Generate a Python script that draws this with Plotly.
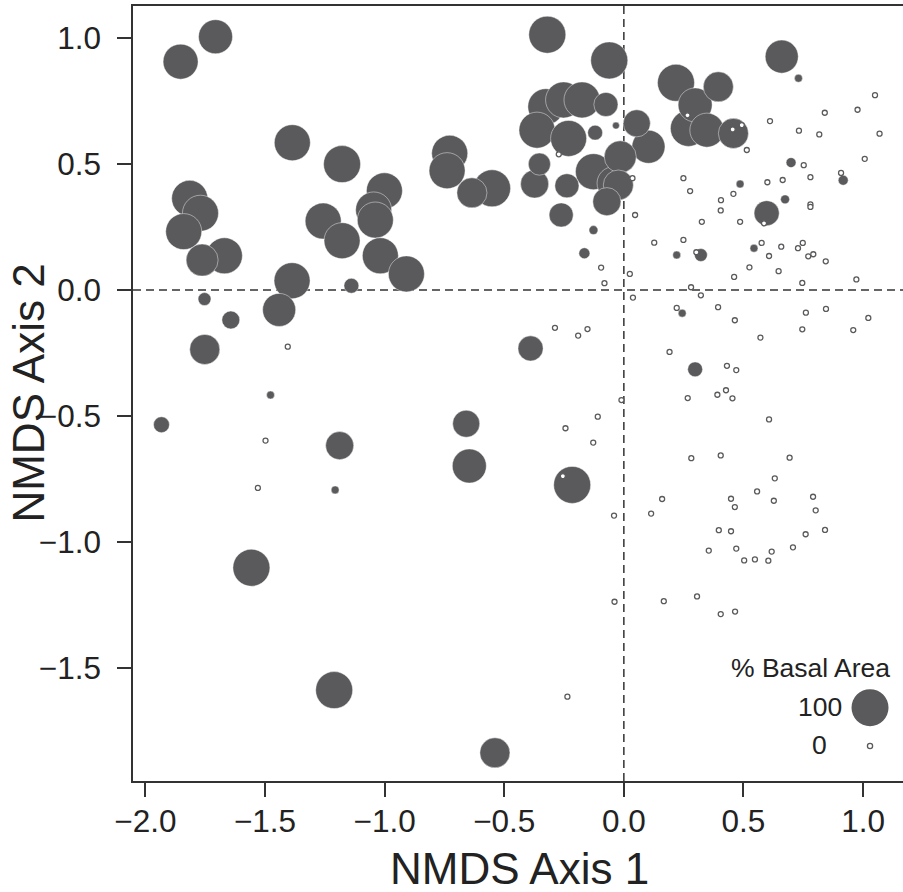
import numpy as np
import plotly.graph_objects as go

# Sites with non-zero basal area (NMDS axis 1, axis 2, % basal area)
filled_x = [-1.853, -1.707, -1.386, -1.815, -1.770, -1.840, -1.763, -1.670, -1.178, -1.001,
            -1.046, -1.039, -1.257, -1.178, -1.018, -0.909, -1.387, -1.441, -1.139, -1.753,
            -1.643, -1.752, -1.477, -1.933, -1.188, -1.207, -1.557, -1.211, -0.539, -0.659,
            -0.646, -0.390, -0.216, -0.320, -0.061, -0.728, -0.739, -0.635, -0.551, -0.353,
            -0.373, -0.238, -0.262, -0.127, -0.165, -0.120, -0.326, -0.252, -0.175, -0.075,
            -0.363, -0.231, -0.033, 0.054, 0.103, -0.015, -0.043, -0.127, -0.023, -0.071,
            0.218, 0.395, 0.298, 0.270, 0.347, 0.458, 0.660, 0.730, 0.699, 0.486,
            0.674, 0.597, 0.917, 0.544, 0.322, 0.221, 0.244, 0.298]
filled_y = [0.907, 1.006, 0.585, 0.364, 0.305, 0.232, 0.119, 0.136, 0.500, 0.394,
            0.318, 0.278, 0.274, 0.196, 0.136, 0.064, 0.037, -0.079, 0.017, -0.036,
            -0.119, -0.236, -0.417, -0.535, -0.618, -0.794, -1.103, -1.589, -1.838, -0.531,
            -0.699, -0.232, -0.774, 1.014, 0.912, 0.543, 0.474, 0.386, 0.404, 0.500,
            0.421, 0.414, 0.298, 0.238, 0.146, 0.625, 0.728, 0.755, 0.755, 0.737,
            0.635, 0.602, 0.653, 0.662, 0.569, 0.529, 0.424, 0.470, 0.417, 0.351,
            0.823, 0.807, 0.735, 0.642, 0.635, 0.622, 0.927, 0.841, 0.506, 0.421,
            0.360, 0.305, 0.436, 0.166, 0.139, 0.139, -0.092, -0.315]
filled_ba = [94, 91, 97, 97, 97, 97, 85, 97, 100, 97,
             97, 97, 97, 97, 97, 97, 97, 88, 33, 27,
             42, 79, 12, 36, 73, 12, 100, 100, 79, 70,
             91, 64, 100, 100, 100, 97, 97, 79, 100, 55,
             73, 61, 61, 15, 21, 33, 97, 97, 97, 61,
             97, 97, 9, 70, 88, 85, 88, 97, 79, 73,
             100, 79, 91, 97, 91, 79, 88, 12, 18, 12,
             15, 64, 18, 12, 27, 12, 12, 33]

# Sites with zero basal area
zero_x = [-0.081, -1.405, -1.498, -1.530, -0.288, -0.191, -0.152, -0.010, -0.109, -0.244,
          -0.128, -0.255, -0.041, -0.039, -0.236, -0.272, 0.036, 0.047, 0.266, 0.455,
          0.493, 0.514, 0.611, 0.732, 0.249, 0.277, 0.458, 0.406, 0.405, 0.600,
          0.664, 1.050, 0.977, 0.840, 0.817, 1.069, 1.007, 0.752, 0.780, 0.908,
          0.780, 0.780, 0.748, 0.728, 0.658, 0.576, 0.607, 0.771, 0.792, 0.844,
          0.525, 0.647, 0.972, 0.746, 0.461, 0.486, 0.326, 0.303, 0.249, 0.127,
          0.025, -0.095, 0.281, 0.322, 0.038, 0.586, 0.221, 0.394, 0.464, 0.571,
          0.746, 0.761, 0.845, 0.959, 1.022, 0.191, 0.431, 0.470, 0.267, 0.391,
          0.427, 0.454, 0.607, 0.282, 0.405, 0.693, 0.631, 0.557, 0.160, 0.448,
          0.464, 0.627, 0.791, 0.802, 0.114, 0.397, 0.448, 0.760, 0.841, 0.355,
          0.470, 0.618, 0.707, 0.503, 0.548, 0.604, 0.167, 0.306, 0.405, 0.465]
zero_y = [0.027, -0.225, -0.598, -0.786, -0.150, -0.181, -0.155, -0.437, -0.503, -0.549,
          -0.606, -0.739, -0.896, -1.238, -1.615, 0.539, 0.444, 0.298, 0.694, 0.638,
          0.655, 0.556, 0.671, 0.633, 0.444, 0.393, 0.382, 0.357, 0.316, 0.428,
          0.437, 0.774, 0.716, 0.704, 0.618, 0.621, 0.521, 0.496, 0.448, 0.465,
          0.340, 0.330, 0.187, 0.166, 0.172, 0.187, 0.135, 0.134, 0.142, 0.114,
          0.090, 0.075, 0.042, 0.028, 0.052, 0.271, 0.271, 0.150, 0.199, 0.188,
          0.064, 0.089, 0.011, -0.021, -0.030, 0.265, -0.071, -0.068, -0.120, -0.189,
          -0.156, -0.090, -0.075, -0.159, -0.111, -0.246, -0.301, -0.318, -0.429, -0.416,
          -0.398, -0.430, -0.514, -0.668, -0.657, -0.666, -0.748, -0.800, -0.830, -0.829,
          -0.862, -0.837, -0.821, -0.875, -0.888, -0.954, -0.958, -0.970, -0.953, -1.035,
          -1.027, -1.039, -1.022, -1.074, -1.070, -1.075, -1.236, -1.217, -1.287, -1.277]

x_ticks = [-2.0, -1.5, -1.0, -0.5, 0.0, 0.5, 1.0]
y_ticks = [-1.5, -1.0, -0.5, 0.0, 0.5, 1.0]
legend_title = "% Basal Area"
legend_levels = ["100", "0"]

FILL = "#5a5a5c"
INK = "#222222"
FONT = "Liberation Sans, Arial, Helvetica, sans-serif"


def diam(ba):
    return 4 + 0.33 * np.asarray(ba, dtype=float)


order = np.argsort(-np.asarray(filled_ba, dtype=float), kind="stable")
fx = np.asarray(filled_x)[order]
fy = np.asarray(filled_y)[order]
fs = diam(np.asarray(filled_ba)[order])

fig = go.Figure()
fig.add_trace(go.Scatter(
    x=fx, y=fy, mode="markers",
    marker=dict(size=fs, color=FILL, opacity=1,
                line=dict(color="rgba(255,255,255,0.55)", width=0.8)),
    hoverinfo="skip", showlegend=False))
fig.add_trace(go.Scatter(
    x=zero_x, y=zero_y, mode="markers",
    marker=dict(size=5, color="white", opacity=1, line=dict(color=FILL, width=1.3)),
    hoverinfo="skip", showlegend=False))

# dashed reference lines
fig.add_shape(type="line", xref="x", yref="paper", x0=0, x1=0, y0=0, y1=1,
              line=dict(color="#333333", width=1.5, dash="8px,5px"), layer="below")
fig.add_shape(type="line", xref="paper", yref="y", x0=0, x1=1, y0=0, y1=0,
              line=dict(color="#333333", width=1.5, dash="8px,5px"), layer="below")

W, H = 903, 892
L, R, T, B = 132.5, 0, 6, 111
pw = W - L - R
ph = H - T - B


def px2paper_x(px):
    return (px - L) / pw


def px2paper_y(py):
    return (H - B - py) / ph


# legend (size key)
big_d = float(diam(100))
fig.add_shape(type="circle", xref="paper", yref="paper", xsizemode="pixel", ysizemode="pixel",
              xanchor=px2paper_x(870), yanchor=px2paper_y(707.7),
              x0=-big_d / 2, x1=big_d / 2, y0=-big_d / 2, y1=big_d / 2,
              fillcolor=FILL, line=dict(width=0))
fig.add_shape(type="circle", xref="paper", yref="paper", xsizemode="pixel", ysizemode="pixel",
              xanchor=px2paper_x(870), yanchor=px2paper_y(746),
              x0=-2.6, x1=2.6, y0=-2.6, y1=2.6,
              fillcolor="white", line=dict(width=1.3, color=FILL))

ann = [
    dict(text=legend_title, x=px2paper_x(892), y=px2paper_y(668), xanchor="right", yanchor="middle",
         font=dict(size=26.5, color=INK)),
    dict(text=legend_levels[0], x=px2paper_x(844), y=px2paper_y(707), xanchor="right", yanchor="middle",
         font=dict(size=26.5, color=INK)),
    dict(text=legend_levels[1], x=px2paper_x(829), y=px2paper_y(745), xanchor="right", yanchor="middle",
         font=dict(size=26.5, color=INK)),
    dict(text="NMDS Axis 1", x=px2paper_x(519), y=px2paper_y(868), xanchor="center", yanchor="middle",
         font=dict(size=44, color=INK)),
    dict(text="NMDS Axis 2", x=px2paper_x(27), y=px2paper_y(393), xanchor="center", yanchor="middle",
         textangle=-90, font=dict(size=44, color=INK)),
]
for a in ann:
    a.update(xref="paper", yref="paper", showarrow=False)
fig.update_layout(annotations=ann)

axis_common = dict(showgrid=False, zeroline=False, showline=True, linecolor="#333333", linewidth=1.5,
                   ticks="outside", ticklen=14, tickwidth=1.5, tickcolor="#333333",
                   tickfont=dict(size=31.5, color=INK), tickformat=".1f", automargin=False)
fig.update_xaxes(range=[-2.052, 1.167], tickvals=x_ticks, mirror=True, ticklabelstandoff=-3, **axis_common)
fig.update_yaxes(range=[-1.950, 1.128], tickvals=y_ticks, mirror=False, ticklabelstandoff=10, **axis_common)

fig.update_layout(width=W, height=H, margin=dict(l=L, r=R, t=T, b=B, pad=0),
                  paper_bgcolor="white", plot_bgcolor="white",
                  font=dict(family=FONT, color=INK))

fig.write_html("out.html", config={"displayModeBar": False},
               post_script="document.body.style.margin='0';document.body.style.overflow='hidden';")
